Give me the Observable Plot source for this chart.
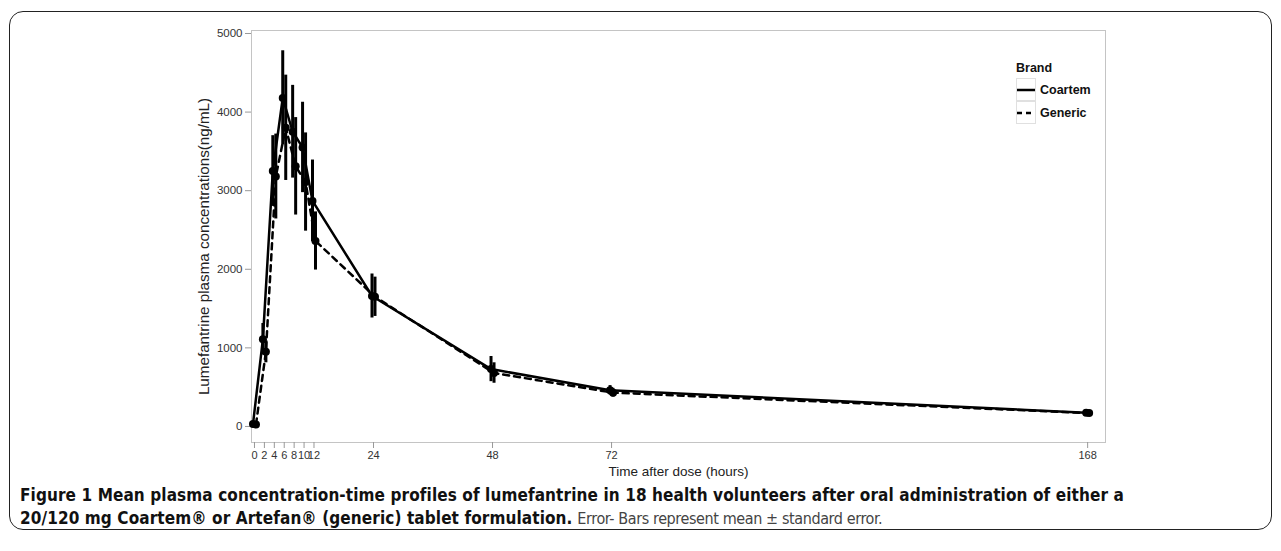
<!DOCTYPE html>
<html>
<head>
<meta charset="utf-8">
<script src="https://cdn.jsdelivr.net/npm/d3@7"></script>
<script src="https://cdn.jsdelivr.net/npm/@observablehq/plot@0.6"></script>
<style>
  html, body { margin: 0; padding: 0; background: #fff; }
  body { width: 1281px; height: 551px; overflow: hidden; position: relative; font-family: "Liberation Sans", Arial, sans-serif; }
  #box { position: absolute; left: 9px; top: 11px; width: 1263px; height: 519px; border: 1.5px solid #222; border-radius: 14px; box-sizing: border-box; }
  #chart { position: absolute; left: 0; top: 0; }
  #legend { position: absolute; left: 1016px; top: 58px; font-family: "Liberation Sans", Arial, sans-serif; font-weight: bold; font-size: 12.5px; color: #111; }
  #legend .title { height: 20px; line-height: 20px; }
  #legend .row { display: flex; align-items: center; height: 23px; }
  #legend .key { width: 20px; height: 23px; box-sizing: border-box; border: 1px solid #e0e0e0; display: flex; align-items: center; justify-content: center; margin-right: 4px; }
  #caption { position: absolute; left: 20px; top: 484px; width: 1245px; font-family: "DejaVu Sans Condensed", "Liberation Sans", sans-serif; font-stretch: condensed; font-size: 17px; line-height: 23px; color: #111; }
  #caption b { font-weight: bold; letter-spacing: 0.1px; }
  #caption .reg { color: #444; font-weight: normal; font-size: 16px; letter-spacing: -0.4px; }
</style>
</head>
<body>
<div id="box"></div>
<div id="chart"></div>
<div id="legend"></div>
<div id="caption"><b>Figure 1 Mean plasma concentration-time profiles of lumefantrine in 18 health volunteers after oral administration of either a<br>20/120 mg Coartem® or Artefan® (generic) tablet formulation.</b> <span class="reg">Error- Bars represent mean ± standard error.</span></div>
<script>
// ---- data ----
const times = [0, 2, 4, 6, 8, 10, 12, 24, 48, 72, 168];
const coartemMean = [30, 1110, 3250, 4180, 3750, 3550, 2870, 1660, 730, 460, 175];
const coartemSE   = [5, 200, 450, 600, 590, 575, 520, 280, 160, 60, 20];
const genericMean = [25, 950, 3180, 3800, 3310, 3110, 2360, 1650, 680, 430, 170];
const genericSE   = [5, 140, 540, 670, 620, 625, 370, 250, 130, 55, 20];
const brands = ["Coartem", "Generic"];
const xTicks = [0, 2, 4, 6, 8, 10, 12, 24, 48, 72, 168];
const yTicks = [0, 1000, 2000, 3000, 4000, 5000];
const xTitle = "Time after dose (hours)";
const yTitle = "Lumefantrine plasma concentrations(ng/mL)";

const rows = [];
times.forEach((t, i) => {
  rows.push({brand: "Coartem", time: t, mean: coartemMean[i], se: coartemSE[i]});
  rows.push({brand: "Generic", time: t, mean: genericMean[i], se: genericSE[i]});
});
const C = rows.filter(d => d.brand === "Coartem");
const G = rows.filter(d => d.brand === "Generic");

const chart = Plot.plot({
  width: 1281,
  height: 484,
  marginLeft: 251,
  marginRight: 176,
  marginTop: 30,
  marginBottom: 42,
  style: {fontFamily: "Liberation Sans, Arial, sans-serif", fontSize: "11px", color: "#333", background: "transparent"},
  x: {domain: [-0.6, 171.6]},
  y: {domain: [-204, 5038]},
  marks: [
    Plot.frame({stroke: "#c4c4c4"}),
    Plot.axisX({ticks: xTicks, tickSize: 6, tickPadding: 3, stroke: "#999", fill: "#333", label: null, fontSize: 11}),
    Plot.axisY({ticks: yTicks, tickSize: 6, tickPadding: 3, stroke: "#999", fill: "#333", tickFormat: d => String(d), label: null, fontSize: 11.5}),
    Plot.text([xTitle], {frameAnchor: "bottom", dy: 33, fontSize: 13.5, fill: "#222"}),
    Plot.text([yTitle], {frameAnchor: "left", textAnchor: "middle", dx: -47, dy: 10, rotate: -90, fontSize: 15.2, fill: "#222"}),
    Plot.ruleX(C, {x: "time", y1: d => d.mean - d.se, y2: d => d.mean + d.se, dx: -1.5, stroke: "#000", strokeWidth: 3}),
    Plot.ruleX(G, {x: "time", y1: d => d.mean - d.se, y2: d => d.mean + d.se, dx: 1.5, stroke: "#000", strokeWidth: 3}),
    Plot.lineY(G, {x: "time", y: "mean", dx: 1.5, stroke: "#000", strokeWidth: 2.5, strokeDasharray: "6,5"}),
    Plot.lineY(C, {x: "time", y: "mean", dx: -1.5, stroke: "#000", strokeWidth: 2.5}),
    Plot.dot(C, {x: "time", y: "mean", dx: -1.5, r: 4, fill: "#000"}),
    Plot.dot(G, {x: "time", y: "mean", dx: 1.5, r: 4, fill: "#000"})
  ]
});
document.getElementById("chart").appendChild(chart);

// legend
const legend = d3.select("#legend");
legend.append("div").attr("class", "title").text("Brand");
brands.forEach(b => {
  const row = legend.append("div").attr("class", "row");
  const key = row.append("div").attr("class", "key");
  const svg = key.append("svg").attr("width", 18).attr("height", 6);
  svg.append("line").attr("x1", 0).attr("x2", 18).attr("y1", 3).attr("y2", 3)
    .attr("stroke", "#000").attr("stroke-width", 2.5)
    .attr("stroke-dasharray", b === "Generic" ? "5,4" : null);
  row.append("span").text(b);
});
</script>
</body>
</html>
